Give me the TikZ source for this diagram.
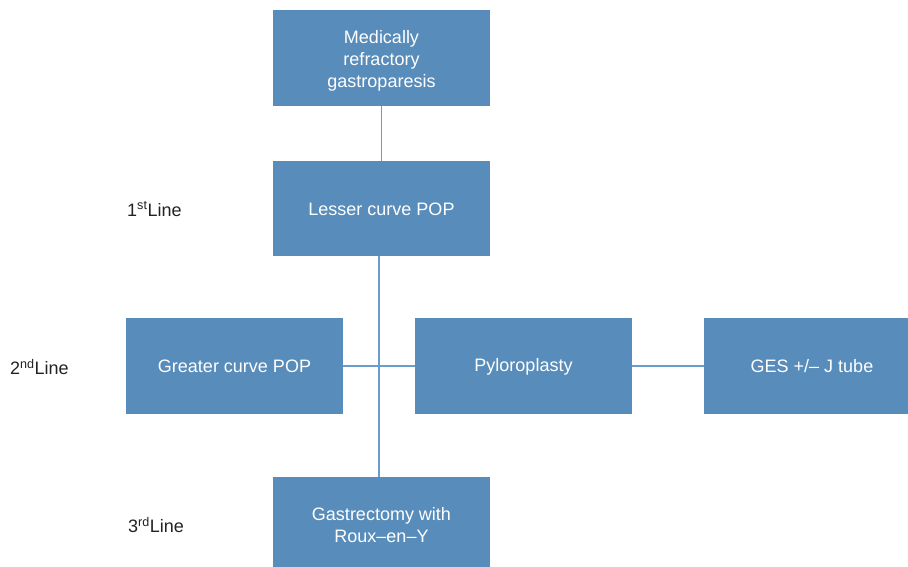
\documentclass[tikz,border=0pt]{standalone}
\usepackage{fontspec}
\setmainfont{Liberation Sans}
\definecolor{boxblue}{HTML}{588CBA}
\definecolor{lineblue}{HTML}{6A9BCB}
\definecolor{labelgray}{HTML}{222222}
\begin{document}
\begin{tikzpicture}[x=1bp,y=-1bp,
  box/.style={fill=boxblue, draw=none, minimum width=217bp, minimum height=96bp, inner sep=0pt},
  boxtext/.style={text=white, inner sep=0pt, align=center, font=\fontsize{18bp}{22bp}\selectfont},
  conn/.style={draw=lineblue, line width=1.3bp},
  lbl/.style={anchor=west, text=labelgray, inner sep=0pt, font=\fontsize{18bp}{22bp}\selectfont}]
\useasboundingbox (0,0) rectangle (908,567);
\node[box] (top) at (381.5,58) {};
\node[box, minimum height=95bp] (lesser) at (381.5,208.5) {};
\node[box] (greater) at (234.5,366) {};
\node[box] (pylo) at (523.5,366) {};
\node[box, minimum width=204bp] (ges) at (806,366) {};
\node[box, minimum height=90bp] (gast) at (381.5,522) {};
\node[boxtext] (topt) at ([yshift=-2.5]top.center) {Medically\\refractory\\gastroparesis};
\node[boxtext] (lessert) at ([yshift=-0.5]lesser.center) {Lesser curve POP};
\node[boxtext] (greatert) at (greater.center) {Greater curve POP};
\node[boxtext] (pylot) at ([yshift=-0.5]pylo.center) {Pyloroplasty};
\node[boxtext] (gest) at ([xshift=6]ges.center) {GES +/– J tube};
\node[boxtext] (gastt) at ([yshift=-3.5]gast.center) {Gastrectomy with\\Roux–en–Y};
\node[lbl] (l1) at (127,209) {1\textsuperscript{st}Line};
\node[lbl] (l2) at (10,367) {2\textsuperscript{nd}Line};
\node[lbl] (l3) at (128,525) {3\textsuperscript{rd}Line};
\coordinate (vx) at (379,0);
\draw[conn] (top.south) -- (lesser.north);
\draw[conn] (lesser.south -| vx) -- (gast.north -| vx);
\draw[conn] (greater.east) -- (pylo.west);
\draw[conn] (pylo.east) -- (ges.west);
\end{tikzpicture}
\end{document}
